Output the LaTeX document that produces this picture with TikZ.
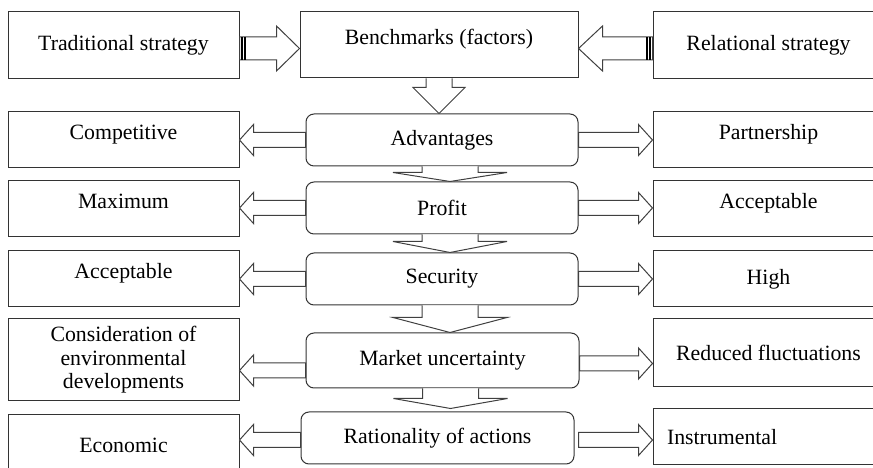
\documentclass[tikz,border=0pt]{standalone}
\usepackage{fontspec}
\setmainfont{Liberation Serif}
\usetikzlibrary{calc}

% block arrow, horizontal: from, to, shaft half width, head half width, head length
\newcommand{\harrow}[5]{%
  \draw[blk] let \p1=(#1), \p2=(#2), \n1={ifthenelse(\x2>\x1,1,-1)} in
    (\x1,\y1+#3)--(\x2-\n1*#5,\y1+#3)--(\x2-\n1*#5,\y1+#4)--(\x2,\y1)
    --(\x2-\n1*#5,\y1-#4)--(\x2-\n1*#5,\y1-#3)--(\x1,\y1-#3)--cycle;}
% block arrow, downwards: from, to, shaft half width, head half width, head length
\newcommand{\varrow}[5]{%
  \draw[blk] let \p1=(#1), \p2=(#2) in
    (\x1-#3,\y1)--(\x1-#3,\y2+#5)--(\x1-#4,\y2+#5)--(\x1,\y2)
    --(\x1+#4,\y2+#5)--(\x1+#3,\y2+#5)--(\x1+#3,\y1);}

\begin{document}
\begin{tikzpicture}[x=1pt,y=1pt,
  font=\fontsize{21.8}{23.5}\selectfont,
  box/.style={draw=black!80,line width=1pt,inner sep=0pt,align=center,
    minimum width=231pt,minimum height=56pt},
  mid/.style={box,rounded corners=8pt,minimum width=272pt,minimum height=52pt},
  raised/.style={text depth=16pt},
  blk/.style={draw=black!75,fill=white,line width=1pt}]
  \path[use as bounding box,clip](0,0)rectangle(873,468);%frame

  % row 1
  \node[box,minimum height=67pt](trad)at(123.5,422.5){Traditional strategy};
  \node[box,raised,minimum width=278pt,minimum height=66pt](bench)at(439,423){Benchmarks (factors)};
  \node[box,minimum height=67pt](rel)at(768.5,422.5){Relational strategy};
  % row 2
  \node[box,raised](comp)at(123.5,328){Competitive};
  \node[mid](adv)at(442,328){Advantages};
  \node[box,raised](part)at(768.5,328){Partnership};
  % row 3
  \node[box,raised](maxi)at(123.5,259){Maximum};
  \node[mid](profit)at(442,260){Profit};
  \node[box,raised](accr)at(768.5,259){Acceptable};
  % row 4
  \node[box,raised](accl)at(123.5,189){Acceptable};
  \node[mid](secur)at(442,189){Security};
  \node[box](high)at(768.5,189){High};
  % row 5
  \node[box,minimum height=82pt](consid)at(123.5,108){Consideration of\\environmental\\developments};
  \node[mid,minimum width=273pt,minimum height=55pt](market)at(442.5,107.5){Market uncertainty};
  \node[box,minimum height=68pt](reduced)at(768.5,115){Reduced fluctuations};
  % row 6
  \node[box,minimum height=60pt](econ)at(123.5,23){Economic};
  \node[mid,minimum width=273pt](ration)at(437.5,30){Rationality of actions};
  \node[box,align=left,text width=203pt,inner xsep=14pt](instr)at(768.5,31){Instrumental};

  % strategies into benchmarks
  \harrow{$(trad.east)+(0,-3)$}{$(bench.west)+(0,-3)$}{11.5}{22.5}{23}
  \harrow{$(rel.west)+(0,-3)$}{$(bench.east)+(0,-3)$}{11.5}{22.5}{24}
  \foreach \d in {2.5,5.5}{%thick ends
    \draw[line width=1.2pt]($(trad.east)+(\d,-14.5)$)--($(trad.east)+(\d,8.5)$);
    \draw[line width=1.2pt]($(rel.west)+(-\d,-14.5)$)--($(rel.west)+(-\d,8.5)$);}

  % down the middle
  \varrow{bench.south}{bench.south |- adv.north}{13}{26}{26}
  \varrow{$(adv.south)+(8,0)$}{$(profit.north)+(8,0)$}{28}{57}{9}
  \varrow{$(profit.south)+(8,0)$}{$(secur.north)+(8,0)$}{28}{57}{11}
  \varrow{$(secur.south)+(8,0)$}{$(market.north)+(8,0)$}{28}{57}{15}
  \varrow{$(market.south)+(8,0)$}{$(market.south)+(8,-20)$}{28}{57}{10}

  % out to both sides
  \harrow{adv.west}{adv.west -| comp.east}{7.5}{15.5}{14}
  \harrow{adv.east}{adv.east -| part.west}{7.5}{15.5}{14}
  \harrow{profit.west}{profit.west -| maxi.east}{7.5}{15.5}{14}
  \harrow{profit.east}{profit.east -| accr.west}{7.5}{15.5}{14}
  \harrow{secur.west}{secur.west -| accl.east}{7.5}{15.5}{14}
  \harrow{secur.east}{secur.east -| high.west}{7.5}{15.5}{14}
  \harrow{$(market.west)+(0,-10)$}{$(market.west -| consid.east)+(0,-10)$}{7.5}{15.5}{14}
  \harrow{$(market.east)+(0,-3)$}{$(market.east -| reduced.west)+(0,-3)$}{7.5}{15.5}{14}
  \harrow{$(ration.west)+(0,-2)$}{$(ration.west -| econ.east)+(0,-2)$}{7.5}{15.5}{14}
  \harrow{$(ration.east)+(4,-2)$}{$(ration.east -| instr.west)+(0,-2)$}{7.5}{15.5}{14}
\end{tikzpicture}
\end{document}
